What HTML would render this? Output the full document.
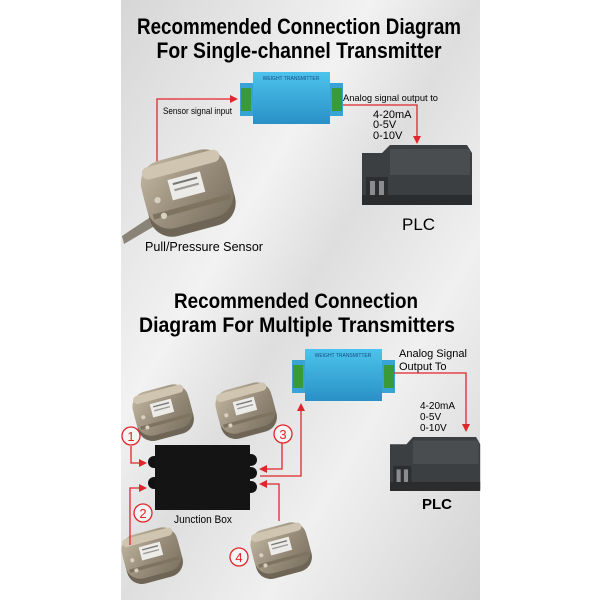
<!DOCTYPE html>
<html><head><meta charset="utf-8"><style>
html,body{margin:0;padding:0;background:#fff}
svg{display:block}
text{font-family:"Liberation Sans",sans-serif}
</style></head><body>
<svg width="600" height="600" viewBox="0 0 600 600" xmlns="http://www.w3.org/2000/svg">
<defs>
<linearGradient id="bg" x1="0" y1="0" x2="1" y2="1">
<stop offset="0" stop-color="#d6d6d6"/><stop offset="0.35" stop-color="#f2f2f2"/><stop offset="0.5" stop-color="#dedede"/><stop offset="0.7" stop-color="#f0f0f0"/><stop offset="1" stop-color="#d2d2d2"/></linearGradient>
<linearGradient id="metal" x1="0" y1="0" x2="1" y2="1">
<stop offset="0" stop-color="#c4b9a3"/><stop offset="0.5" stop-color="#9a8f7c"/><stop offset="1" stop-color="#7a705f"/></linearGradient>
<linearGradient id="blue" x1="0" y1="0" x2="0" y2="1">
<stop offset="0" stop-color="#4cc3ec"/><stop offset="1" stop-color="#2a90c6"/></linearGradient>
<marker id="ah" markerWidth="8" markerHeight="8" refX="6" refY="4" orient="auto" markerUnits="userSpaceOnUse"><path d="M0,0 L8,4 L0,8 z" fill="#e0262b"/></marker>
<g id="sensor">
<g transform="rotate(-15)">
<rect x="-42" y="-30" width="84" height="68" rx="22" fill="#6e6556"/>
<rect x="-42" y="-36" width="84" height="66" rx="22" fill="url(#metal)"/>
<rect x="-38" y="-33" width="76" height="12" rx="6" fill="#cfc5b0"/>
<rect x="-38" y="12" width="76" height="5" fill="#7d735f"/>
<rect x="-16" y="-16" width="32" height="20" fill="#ecebe8"/>
<rect x="-12" y="-12" width="24" height="2" fill="#777"/>
<rect x="-12" y="-6" width="24" height="2" fill="#999"/>
<circle cx="-30" cy="0" r="3" fill="#d8d0bf"/>
<circle cx="-28" cy="16" r="3" fill="#d8d0bf"/>
</g>
</g>
<g id="trans">
<rect x="-13" y="11" width="103" height="33" fill="#3aa3d6"/>
<rect x="0" y="0" width="77" height="52" fill="url(#blue)"/>
<rect x="-12" y="16" width="10" height="23" fill="#3a9a3a"/>
<rect x="79" y="16" width="10" height="23" fill="#3a9a3a"/>
<text x="38" y="8" font-size="5" fill="#1a4a80" text-anchor="middle">WEIGHT TRANSMITTER</text>
</g>
<g id="plc">
<path d="M0,8 L20,8 L28,0 L105,0 L110,8 L110,58 L0,58 Z" fill="#3c3f42"/>
<rect x="28" y="4" width="80" height="26" fill="#4a4d50"/>
<rect x="4" y="32" width="22" height="22" fill="#2c2e30"/>
<rect x="0" y="50" width="110" height="10" fill="#2a2c2e"/>
<rect x="8" y="36" width="5" height="14" fill="#8a8c8f"/><rect x="17" y="36" width="5" height="14" fill="#8a8c8f"/>
</g>
</defs>
<rect x="0" y="0" width="600" height="600" fill="#fff"/>
<rect x="121" y="0" width="359" height="600" fill="url(#bg)"/>

<text x="299" y="34" font-size="22" font-weight="bold" text-anchor="middle" textLength="324" lengthAdjust="spacingAndGlyphs">Recommended Connection Diagram</text>
<text x="299" y="58" font-size="22" font-weight="bold" text-anchor="middle" textLength="285" lengthAdjust="spacingAndGlyphs">For Single-channel Transmitter</text>

<polyline points="157,162 157,99 236,99" fill="none" stroke="#e0262b" stroke-width="1.3" marker-end="url(#ah)"/>
<polyline points="342,105 417,105 417,142" fill="none" stroke="#e0262b" stroke-width="1.3" marker-end="url(#ah)"/>
<use href="#trans" x="253" y="72"/>
<text x="163" y="114" font-size="9" textLength="69" lengthAdjust="spacingAndGlyphs">Sensor signal input</text>
<text x="343" y="101" font-size="9.5" textLength="95" lengthAdjust="spacingAndGlyphs">Analog signal output to</text>
<text x="373" y="118" font-size="11">4-20mA</text>
<text x="373" y="128" font-size="11">0-5V</text>
<text x="373" y="139" font-size="11">0-10V</text>
<use href="#plc" x="362" y="145"/>
<text x="402" y="230" font-size="17">PLC</text>
<path d="M122,236 L152,216 L158,224 L124,244 Z" fill="#8a8478"/>
<use href="#sensor" transform="translate(188,192) scale(1.05)"/>
<text x="145" y="251" font-size="13" textLength="118" lengthAdjust="spacingAndGlyphs">Pull/Pressure Sensor</text>

<text x="296" y="308" font-size="21" font-weight="bold" text-anchor="middle" textLength="244" lengthAdjust="spacingAndGlyphs">Recommended Connection</text>
<text x="297" y="332" font-size="21" font-weight="bold" text-anchor="middle" textLength="316" lengthAdjust="spacingAndGlyphs">Diagram For Multiple Transmitters</text>

<use href="#trans" transform="translate(305,349) scale(1.0)"/>
<text x="399" y="357" font-size="11">Analog Signal</text>
<text x="399" y="370" font-size="11">Output To</text>
<polyline points="394,373 466,373 466,430" fill="none" stroke="#e0262b" stroke-width="1.3" marker-end="url(#ah)"/>
<text x="420" y="409" font-size="10">4-20mA</text>
<text x="420" y="420" font-size="10">0-5V</text>
<text x="420" y="431" font-size="10">0-10V</text>
<use href="#plc" transform="translate(390,437) scale(0.82,0.9)"/>
<text x="437" y="509" font-size="15" font-weight="bold" text-anchor="middle">PLC</text>

<use href="#sensor" transform="translate(163,412) scale(0.68)"/>
<use href="#sensor" transform="translate(246,410) scale(0.68)"/>
<use href="#sensor" transform="translate(152,555) scale(0.68)"/>
<use href="#sensor" transform="translate(281,550) scale(0.68)"/>

<rect x="148" y="456" width="14" height="12" rx="6" fill="#111"/>
<rect x="148" y="477" width="14" height="12" rx="6" fill="#111"/>
<rect x="243" y="454" width="14" height="12" rx="6" fill="#111"/>
<rect x="243" y="467" width="14" height="12" rx="6" fill="#111"/>
<rect x="243" y="481" width="14" height="12" rx="6" fill="#111"/>
<rect x="155" y="445" width="95" height="65" fill="#141414"/>
<text x="174" y="523" font-size="11" textLength="58" lengthAdjust="spacingAndGlyphs">Junction Box</text>

<g fill="none" stroke="#e0262b" stroke-width="1.3">
<polyline points="131,446 131,463 145,463" marker-end="url(#ah)"/>
<polyline points="282,443 282,469 261,469" marker-end="url(#ah)"/>
<polyline points="260,476 301,476 301,405" marker-end="url(#ah)"/>
<polyline points="130,545 130,488 145,488" marker-end="url(#ah)"/>
<polyline points="279,521 279,484 261,484" marker-end="url(#ah)"/>
<circle cx="131" cy="436" r="9" fill="#f4f4f4"/>
<circle cx="283" cy="434" r="9" fill="#f4f4f4"/>
<circle cx="143" cy="513" r="9" fill="#f4f4f4"/>
<circle cx="239" cy="557" r="9" fill="#f4f4f4"/>
</g>
<g font-size="13" fill="#e0262b" text-anchor="middle">
<text x="131" y="441">1</text><text x="283" y="439">3</text><text x="143" y="518">2</text><text x="239" y="562">4</text>
</g>
</svg>
</body></html>
